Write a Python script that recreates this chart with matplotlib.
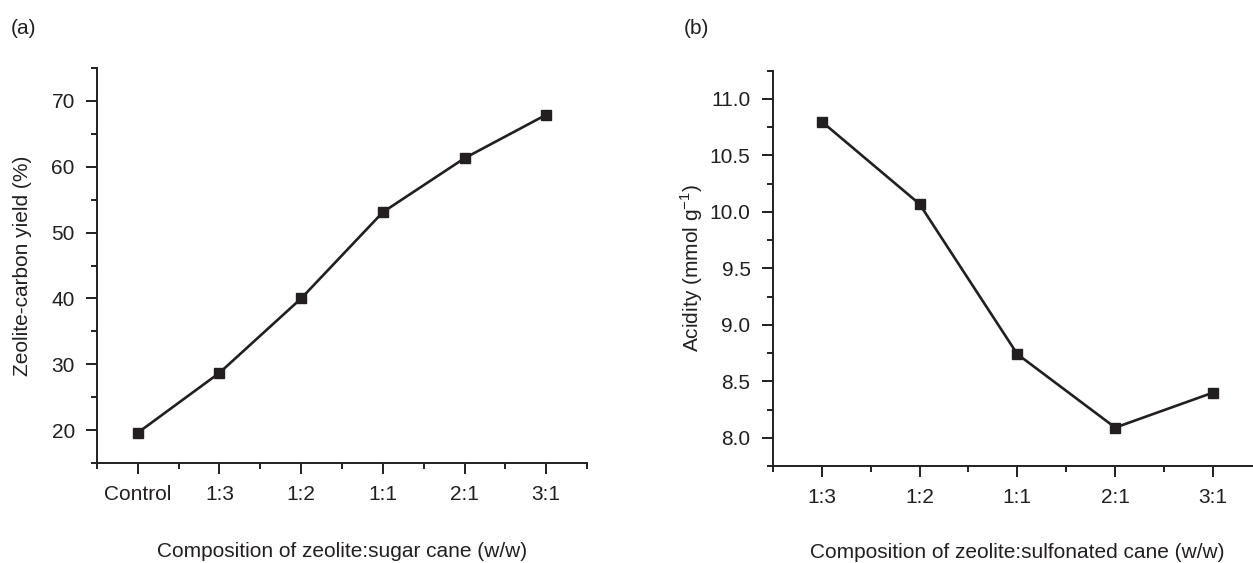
import matplotlib
matplotlib.use("Agg")
import matplotlib.pyplot as plt
from matplotlib.ticker import MultipleLocator, FormatStrFormatter

plt.rcParams['font.family'] = ['Liberation Sans', 'DejaVu Sans']

# panel (a): zeolite-carbon yield
yield_labels = ['Control', '1:3', '1:2', '1:1', '2:1', '3:1']
yield_values = [19.6, 28.7, 40.0, 53.1, 61.3, 67.9]

# panel (b): acidity
acid_labels = ['1:3', '1:2', '1:1', '2:1', '3:1']
acid_values = [10.80, 10.07, 8.74, 8.09, 8.40]

ink = '#231f20'
fs = 15

fig = plt.figure(figsize=(12.53, 5.63), dpi=100)
ax1 = fig.add_axes([0.0774, 0.1776, 0.3911, 0.7016])
ax2 = fig.add_axes([0.6167, 0.1723, 0.3905, 0.7021])


def style(ax, labels, values, ylim, major, minor, xlabel, ylabel, xlab_y, ylab_x):
    x = list(range(len(labels)))
    ax.plot(x, values, '-s', color=ink, lw=1.9, ms=6.5, mfc=ink, mec=ink)
    ax.set_xlim(-0.5, len(labels) - 0.5)
    ax.set_ylim(*ylim)
    ax.set_xticks(x)
    ax.set_xticklabels(labels)
    ax.xaxis.set_minor_locator(MultipleLocator(0.5))
    ax.yaxis.set_major_locator(MultipleLocator(major))
    ax.yaxis.set_minor_locator(MultipleLocator(minor))
    for s in ['top', 'right']:
        ax.spines[s].set_visible(False)
    for s in ['left', 'bottom']:
        ax.spines[s].set_linewidth(1.4)
        ax.spines[s].set_color(ink)
    ax.tick_params(which='major', direction='out', length=8, width=1.4,
                   color=ink, labelcolor=ink, labelsize=fs, pad=8)
    ax.tick_params(which='minor', direction='out', length=4, width=1.4, color=ink)
    ax.set_xlabel(xlabel, fontsize=fs, color=ink)
    ax.set_ylabel(ylabel, fontsize=fs, color=ink)
    ax.xaxis.label.set_va('center')
    ax.yaxis.label.set_va('center')
    ax.xaxis.set_label_coords(0.5, xlab_y)
    ax.yaxis.set_label_coords(ylab_x, 0.5)


style(ax1, yield_labels, yield_values, (15, 75), 10, 5,
      'Composition of zeolite:sugar cane (w/w)', 'Zeolite-carbon yield (%)',
      -0.225, -0.153)
ax1.yaxis.set_major_formatter(FormatStrFormatter('%d'))

style(ax2, acid_labels, acid_values, (7.75, 11.25), 0.5, 0.25,
      'Composition of zeolite:sulfonated cane (w/w)',
      r'Acidity (mmol g$^{\mathregular{-1}}$)',
      -0.220, -0.165)
ax2.yaxis.set_major_formatter(FormatStrFormatter('%.1f'))

fig.text(24 / 1253, 1 - 28 / 563, '(a)', fontsize=fs, color=ink, ha='center', va='center')
fig.text(696 / 1253, 1 - 28 / 563, '(b)', fontsize=fs, color=ink, ha='center', va='center')

fig.savefig('out.png', dpi=100)
